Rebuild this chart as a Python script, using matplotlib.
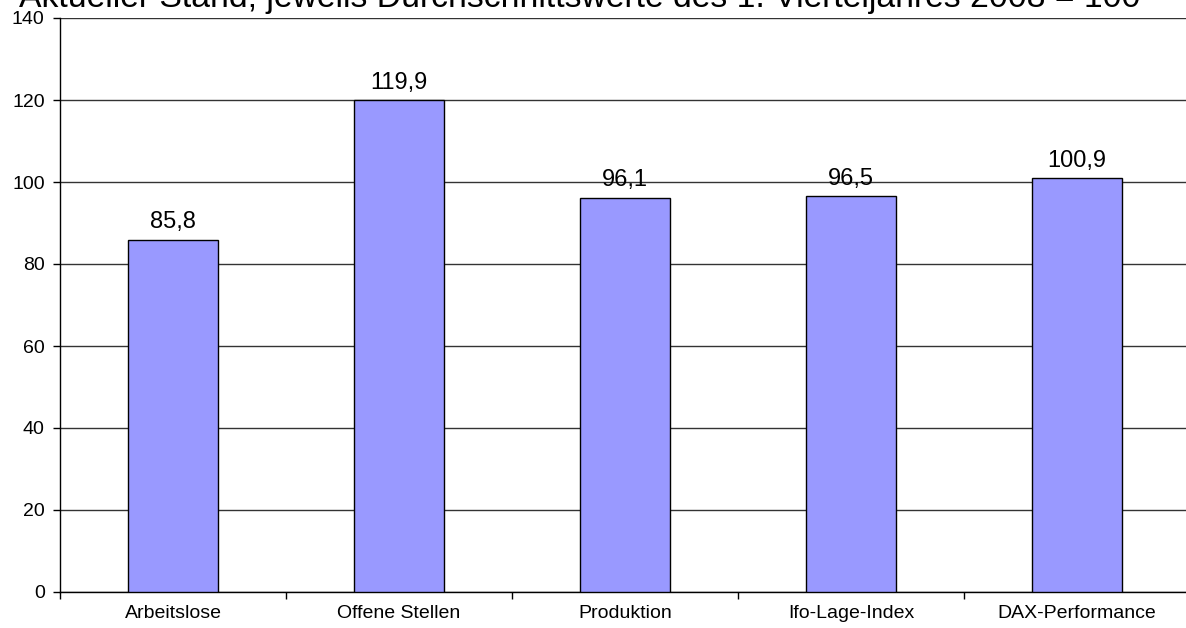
import matplotlib
matplotlib.use("Agg")
import matplotlib.pyplot as plt
from matplotlib.ticker import FixedLocator, NullFormatter

categories = ["Arbeitslose", "Offene Stellen", "Produktion", "Ifo-Lage-Index", "DAX-Performance"]
values = [85.8, 119.9, 96.1, 96.5, 100.9]
value_labels = ["85,8", "119,9", "96,1", "96,5", "100,9"]
yticks = [0, 20, 40, 60, 80, 100, 120, 140]
title = "Aktueller Stand; jeweils Durchschnittswerte des 1. Vierteljahres 2008 = 100"

plt.rcParams['font.family'] = ['Liberation Sans', 'DejaVu Sans']

W, H = 1186, 628
fig = plt.figure(figsize=(W / 100, H / 100), dpi=100)
left, right, top, bottom = 60, 1190, 18, 592
ax = fig.add_axes([left / W, 1 - bottom / H, (right - left) / W, (bottom - top) / H])

x = list(range(len(categories)))
ax.bar(x, values, width=0.4, color="#9999FF", edgecolor="black", linewidth=1, zorder=3)
for xi, v, lab in zip(x, values, value_labels):
    ax.annotate(lab, (xi, v), xytext=(0, 8.5), textcoords="offset points",
                ha="center", va="baseline", fontsize=17)

ax.set_xlim(-0.5, len(categories) - 0.5)
ax.set_ylim(0, 140)
ax.set_yticks(yticks)
ax.set_yticklabels([str(t) for t in yticks], fontsize=14)
ax.set_xticks(x)
ax.set_xticklabels(categories, fontsize=14)
ax.tick_params(axis="x", which="major", length=0, pad=9)
ax.xaxis.set_minor_locator(FixedLocator([i - 0.5 for i in range(len(categories) + 1)]))
ax.xaxis.set_minor_formatter(NullFormatter())
ax.tick_params(axis="x", which="minor", length=5, width=1, direction="out", color="black")
ax.tick_params(axis="y", length=5, width=1, direction="out", pad=6)

ax.yaxis.grid(True, color="#333333", linewidth=1, zorder=0)
ax.set_axisbelow(True)
for s in ["top", "right"]:
    ax.spines[s].set_visible(False)
ax.spines["left"].set_linewidth(1)
ax.spines["bottom"].set_linewidth(1)

fig.text(580 / W, 1 - 7.5 / H, title, ha="center", va="baseline", fontsize=24.3)

fig.savefig("out.png", dpi=100)
